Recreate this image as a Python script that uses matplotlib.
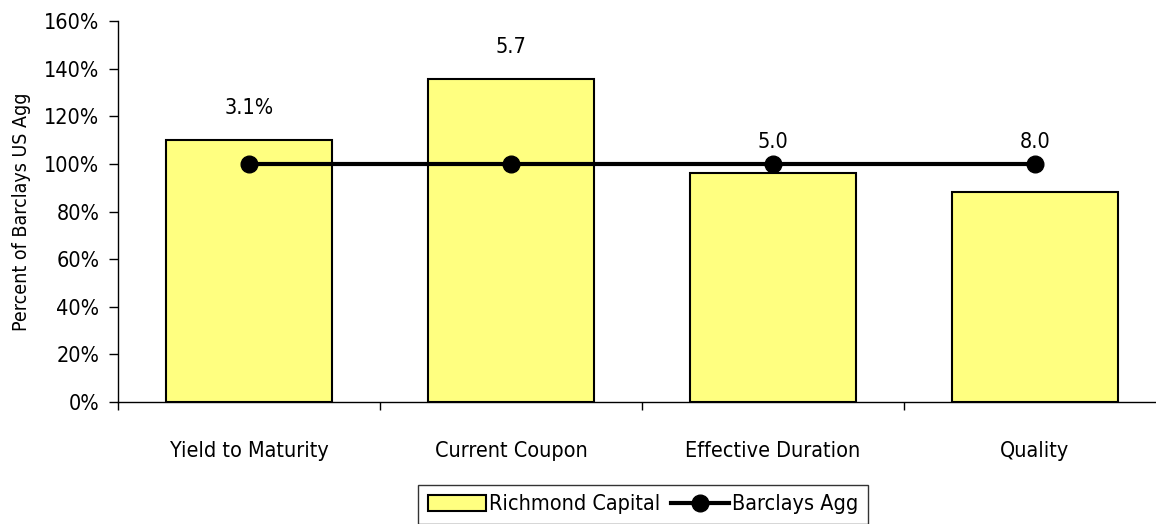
import matplotlib.pyplot as plt
import numpy as np
from matplotlib.ticker import FixedLocator, PercentFormatter

plt.rcParams['font.family'] = ['Liberation Sans Narrow', 'DejaVu Sans']
plt.rcParams['font.stretch'] = 'condensed'

categories = ['Yield to Maturity', 'Current Coupon', 'Effective Duration', 'Quality']
richmond = [110, 135.6, 96.2, 88.2]
barclays = [100, 100, 100, 100]
value_labels = ['3.1%', '5.7', '5.0', '8.0']

fig = plt.figure(figsize=(11.56, 5.24), dpi=100)
ax = fig.add_axes([118 / 1156, 122 / 524, 1048 / 1156, 381 / 524])

x = np.arange(len(categories))
bars = ax.bar(x, richmond, width=0.63, color='#FFFF80', edgecolor='black', linewidth=1.5,
              label='Richmond Capital', zorder=2)
line, = ax.plot(x, barclays, color='black', linewidth=3, marker='o', markersize=12,
                label='Barclays Agg', zorder=3)

# labels sit above whichever is higher, the bar or the line
for xi, r, b, t in zip(x, richmond, barclays, value_labels):
    if r > b:
        y, off = r, 23
    else:
        y, off = b, 16
    ax.annotate(t, (xi, y), xytext=(0, off), textcoords='offset points',
                ha='center', va='center', fontsize=15.5)

ax.set_xlim(-0.5, len(categories) - 0.5)
ax.set_ylim(0, 160)
ax.yaxis.set_major_locator(FixedLocator(np.arange(0, 161, 20)))
ax.yaxis.set_major_formatter(PercentFormatter(decimals=0))

ax.set_xticks(x)
ax.set_xticklabels(categories)
ax.xaxis.set_minor_locator(FixedLocator(np.arange(-0.5, len(categories), 1)))
ax.tick_params(axis='x', which='major', length=0, pad=28, labelsize=15.5)
ax.tick_params(axis='x', which='minor', length=6, width=1, direction='out')
ax.tick_params(axis='y', length=6.5, width=1, labelsize=15.5, pad=7)

for s in ['top', 'right']:
    ax.spines[s].set_visible(False)
ax.spines['left'].set_linewidth(1)
ax.spines['bottom'].set_linewidth(1)

ax.set_ylabel('Percent of Barclays US Agg', fontsize=14, labelpad=9)

leg = fig.legend([bars, line], ['Richmond Capital', 'Barclays Agg'],
                 loc='lower center', bbox_to_anchor=(643 / 1156, -0.004), ncol=2,
                 frameon=True, fancybox=False, edgecolor='black', fontsize=15.5,
                 handlelength=2.7, handleheight=0.75, handletextpad=0.15,
                 columnspacing=0.5, borderpad=0.45, borderaxespad=0.1)
leg.get_frame().set_linewidth(1)

fig.savefig('out.png', dpi=100)
